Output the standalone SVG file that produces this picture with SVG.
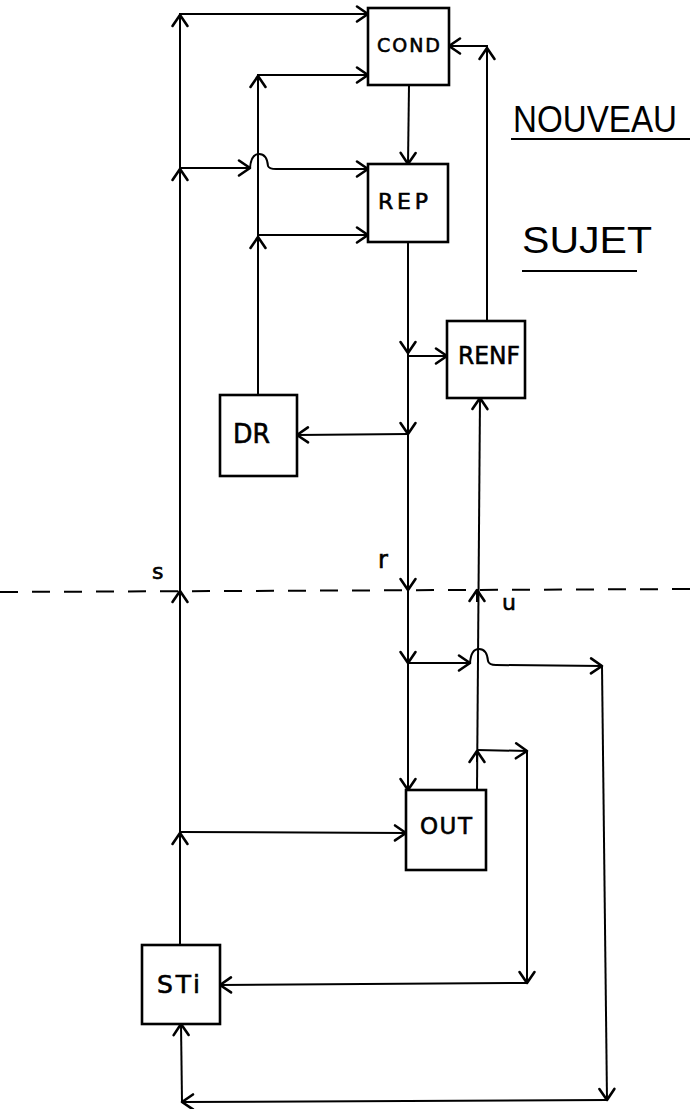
<svg xmlns="http://www.w3.org/2000/svg" width="691" height="1109" viewBox="0 0 691 1109">
<style>
.box{fill:#fff;stroke:#000;stroke-width:2.6}
.ln{fill:none;stroke:#000;stroke-width:2}
.lbl{font-family:"DejaVu Sans","Liberation Sans",sans-serif;fill:#000;stroke:#000;stroke-width:0.6}
.ttl{font-family:"Liberation Sans","DejaVu Sans",sans-serif;fill:#000}
</style>
<defs>
<marker id="a" viewBox="-13 -10 15 20" refX="0" refY="0" markerWidth="15" markerHeight="20" markerUnits="userSpaceOnUse" orient="auto">
<path d="M-11,-7.5 L0,0 L-11,7.5" fill="none" stroke="#000" stroke-width="2.6" stroke-linecap="round" stroke-linejoin="round"/>
</marker>
</defs>
<rect width="691" height="1109" fill="#fff"/>

<g id="connectors">
<!-- dashed boundary -->
<line x1="0" y1="592" x2="691" y2="589" stroke="#000" stroke-width="2" stroke-dasharray="18,14"/>

<!-- left trunk from STI up to COND -->
<path class="ln" d="M180,945 L180,14 L368,14" marker-end="url(#a)"/>
<path class="ln" d="M180,26 L180,15" marker-end="url(#a)"/>
<path class="ln" d="M180,180 L180,169" marker-end="url(#a)"/>
<path class="ln" d="M180,602 L180,591" marker-end="url(#a)"/>
<path class="ln" d="M180,844 L180,833" marker-end="url(#a)"/>

<!-- trunk -> REP with hump -->
<path class="ln" d="M180,168 L250,168" marker-end="url(#a)"/>
<path class="ln" d="M250,168 Q251,154 259,154 Q267,154 268,166 Q269,169 276,169 L368,169" marker-end="url(#a)"/>

<!-- DR line up to COND and REP -->
<path class="ln" d="M258,395 L258,75 L368,75" marker-end="url(#a)"/>
<path class="ln" d="M258,87 L258,76" marker-end="url(#a)"/>
<path class="ln" d="M258,248 L258,237" marker-end="url(#a)"/>
<path class="ln" d="M258,235 L368,235" marker-end="url(#a)"/>

<!-- COND -> REP -->
<path class="ln" d="M409,85 L408,164" marker-end="url(#a)"/>

<!-- RENF -> COND -->
<path class="ln" d="M487,321 L487,46 L449,46" marker-end="url(#a)"/>
<path class="ln" d="M487,60 L487,48" marker-end="url(#a)"/>

<!-- REP -> OUT (r) -->
<path class="ln" d="M408,242 L408,790" marker-end="url(#a)"/>
<path class="ln" d="M408,341 L408,353" marker-end="url(#a)"/>
<path class="ln" d="M408,422 L408,434" marker-end="url(#a)"/>
<path class="ln" d="M408,578 L408,590" marker-end="url(#a)"/>
<path class="ln" d="M408,651 L408,663" marker-end="url(#a)"/>

<!-- r -> RENF -->
<path class="ln" d="M408,356 L447,356" marker-end="url(#a)"/>
<!-- r -> DR -->
<path class="ln" d="M408,434 L297,435" marker-end="url(#a)"/>

<!-- r -> u-line, hump, to far right loop -> STI bottom -->
<path class="ln" d="M408,663 L470,663" marker-end="url(#a)"/>
<path class="ln" d="M470,663 Q471,649 479,649 Q487,649 488,661 Q489,665 496,665 L602,666" marker-end="url(#a)"/>
<path class="ln" d="M602,666 L607,1100" marker-end="url(#a)"/>
<path class="ln" d="M607,1100 L182,1102" marker-end="url(#a)"/>
<path class="ln" d="M182,1102 L181,1024" marker-end="url(#a)"/>

<!-- u line: OUT -> RENF -->
<path class="ln" d="M477,790 L480,398" marker-end="url(#a)"/>
<path class="ln" d="M477,602 L477,590" marker-end="url(#a)"/>
<path class="ln" d="M477,762 L477,751" marker-end="url(#a)"/>

<!-- u -> STI right -->
<path class="ln" d="M477,750 L527,751" marker-end="url(#a)"/>
<path class="ln" d="M527,751 L527,983" marker-end="url(#a)"/>
<path class="ln" d="M527,983 L220,985" marker-end="url(#a)"/>

<!-- trunk -> OUT -->
<path class="ln" d="M180,832 L406,833" marker-end="url(#a)"/>
</g>

<g id="COND">
<rect class="box" x="368" y="8" width="81" height="77"/>
<text class="lbl" x="377" y="52" font-size="19" textLength="63" lengthAdjust="spacing">COND</text>
</g>
<g id="REP">
<rect class="box" x="368" y="164" width="80" height="78"/>
<text class="lbl" x="378" y="209" font-size="22" textLength="50" lengthAdjust="spacing">REP</text>
</g>
<g id="RENF">
<rect class="box" x="447" y="321" width="78" height="77"/>
<text class="lbl" x="458" y="364" font-size="25" textLength="62" lengthAdjust="spacingAndGlyphs">RENF</text>
</g>
<g id="DR">
<rect class="box" x="220" y="395" width="77" height="81"/>
<text class="lbl" x="233" y="443" font-size="26" textLength="37" lengthAdjust="spacingAndGlyphs">DR</text>
</g>
<g id="OUT">
<rect class="box" x="406" y="790" width="80" height="80"/>
<text class="lbl" x="420" y="834" font-size="23" textLength="52" lengthAdjust="spacing">OUT</text>
</g>
<g id="STI">
<rect class="box" x="142" y="945" width="78" height="79"/>
<text class="lbl" x="157" y="993" font-size="25" textLength="43" lengthAdjust="spacing">STi</text>
</g>

<g id="labels">
<text class="lbl" x="152" y="579" font-size="22" stroke-width="0.4">s</text>
<text class="lbl" x="378" y="568" font-size="24" stroke-width="0.4">r</text>
<text class="lbl" x="502" y="610" font-size="22" stroke-width="0.4">u</text>
</g>

<g id="title">
<text class="ttl" x="513" y="132" font-size="36" textLength="164" lengthAdjust="spacingAndGlyphs">NOUVEAU</text>
<line x1="511" y1="139" x2="690" y2="139" stroke="#000" stroke-width="2"/>
<text class="ttl" x="522" y="253" font-size="36" textLength="130" lengthAdjust="spacingAndGlyphs">SUJET</text>
<line x1="522" y1="271" x2="637" y2="271" stroke="#000" stroke-width="2"/>
</g>
</svg>
